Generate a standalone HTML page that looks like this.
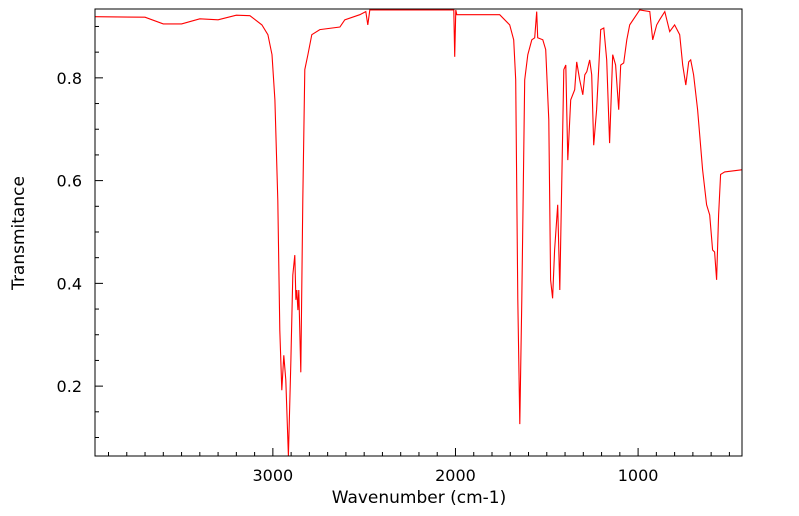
<!DOCTYPE html>
<html><head><meta charset="utf-8"><style>
html,body{margin:0;padding:0;background:#fff;width:799px;height:516px;overflow:hidden}
svg{display:block;font-family:"DejaVu Sans","Liberation Sans",sans-serif}
</style></head><body>
<svg id="chart" width="799" height="516" viewBox="0 0 799 516"></svg>
<script>
const wavenumbers=[3974,3700,3600,3500,3400,3300,3200,3126,3060,3027,3005,2989,2973,2962,2951,2940,2929,2915,2901,2891,2880,2874,2869,2863,2858,2847,2836,2825,2808,2787,2743,2633,2606,2524,2491,2480,2469,2414,2031,2009,2004,1998,1993,1758,1703,1681,1670,1659,1648,1637,1621,1604,1582,1566,1555,1550,1522,1506,1489,1479,1468,1457,1440,1429,1418,1407,1396,1385,1369,1347,1336,1320,1303,1292,1281,1265,1254,1243,1227,1205,1188,1172,1156,1139,1123,1106,1095,1079,1062,1046,991,936,920,898,882,854,827,800,772,756,739,723,712,696,674,647,625,608,592,581,570,559,548,526,433];
const transmittance=[0.919,0.918,0.905,0.905,0.915,0.913,0.922,0.921,0.903,0.884,0.845,0.757,0.562,0.309,0.192,0.260,0.212,0.064,0.251,0.416,0.455,0.368,0.387,0.348,0.387,0.227,0.562,0.816,0.845,0.884,0.894,0.899,0.913,0.923,0.929,0.903,0.932,0.932,0.932,0.932,0.841,0.932,0.923,0.923,0.903,0.874,0.796,0.368,0.126,0.368,0.796,0.845,0.874,0.878,0.929,0.878,0.874,0.855,0.718,0.407,0.371,0.465,0.553,0.387,0.601,0.816,0.825,0.640,0.757,0.777,0.831,0.796,0.767,0.806,0.812,0.835,0.806,0.669,0.738,0.894,0.897,0.835,0.673,0.845,0.825,0.738,0.825,0.829,0.874,0.903,0.932,0.929,0.874,0.903,0.913,0.929,0.890,0.903,0.884,0.825,0.786,0.831,0.835,0.806,0.738,0.621,0.553,0.533,0.465,0.461,0.407,0.533,0.612,0.617,0.621];
const xTicks=[3000,2000,1000];
const yTicks=[0.2,0.4,0.6,0.8];
const X0=95,X1=742,Y0=9,Y1=456;
const wnMax=3974,wnMin=431,tMax=0.934,tMin=0.064;
const xs=w=>X0+(wnMax-w)/(wnMax-wnMin)*(X1-X0);
const ys=t=>Y0+(tMax-t)/(tMax-tMin)*(Y1-Y0);
const NS="http://www.w3.org/2000/svg";
const svg=document.getElementById('chart');
function mk(tag,attrs,parent){const e=document.createElementNS(NS,tag);for(const k in attrs)e.setAttribute(k,attrs[k]);(parent||svg).appendChild(e);return e;}
// line
let d='';wavenumbers.forEach((w,i)=>{d+=(i?'L':'M')+xs(w).toFixed(1)+','+ys(transmittance[i]).toFixed(1);});
const clip=mk('clipPath',{id:'cp'});mk('rect',{x:X0,y:Y0,width:X1-X0,height:Y1-Y0},clip);
const line=mk('path',{d:d,fill:'none',stroke:'#ff0000','stroke-width':1.1,'clip-path':'url(#cp)'});


const frame=mk('rect',{x:X0,y:Y0,width:X1-X0,height:Y1-Y0,fill:'none',stroke:'#000','stroke-width':1});


// x ticks
for(let w=3900;w>=500;w-=100){const x=xs(w);const major=w%1000===0;mk('line',{x1:x,x2:x,y1:Y1,y2:Y1-(major?8:4),stroke:'#000','stroke-width':1});}
xTicks.forEach(w=>{const t=mk('text',{x:xs(w),y:481,'text-anchor':'middle','font-size':16,fill:'#000'});t.textContent=String(w);

});
// y ticks
for(let v=0.1;v<=0.93;v+=0.05){const y=ys(v);const major=Math.abs(v*10-Math.round(v*10))<0.01&&Math.round(v*10)%2===0;mk('line',{x1:X0,x2:X0+(major?8:4),y1:y,y2:y,stroke:'#000','stroke-width':1});}
yTicks.forEach(v=>{const t=mk('text',{x:82,y:ys(v)+6,'text-anchor':'end','font-size':16,fill:'#000'});t.textContent=v.toFixed(1);

});
const xl=mk('text',{x:419,y:503,'text-anchor':'middle','font-size':17,fill:'#000'});xl.textContent='Wavenumber (cm-1)';


const yl=mk('text',{x:0,y:0,'text-anchor':'middle','font-size':17,fill:'#000',transform:'translate(24,233) rotate(-90)'});yl.textContent='Transmitance';


</script>
</body></html>
